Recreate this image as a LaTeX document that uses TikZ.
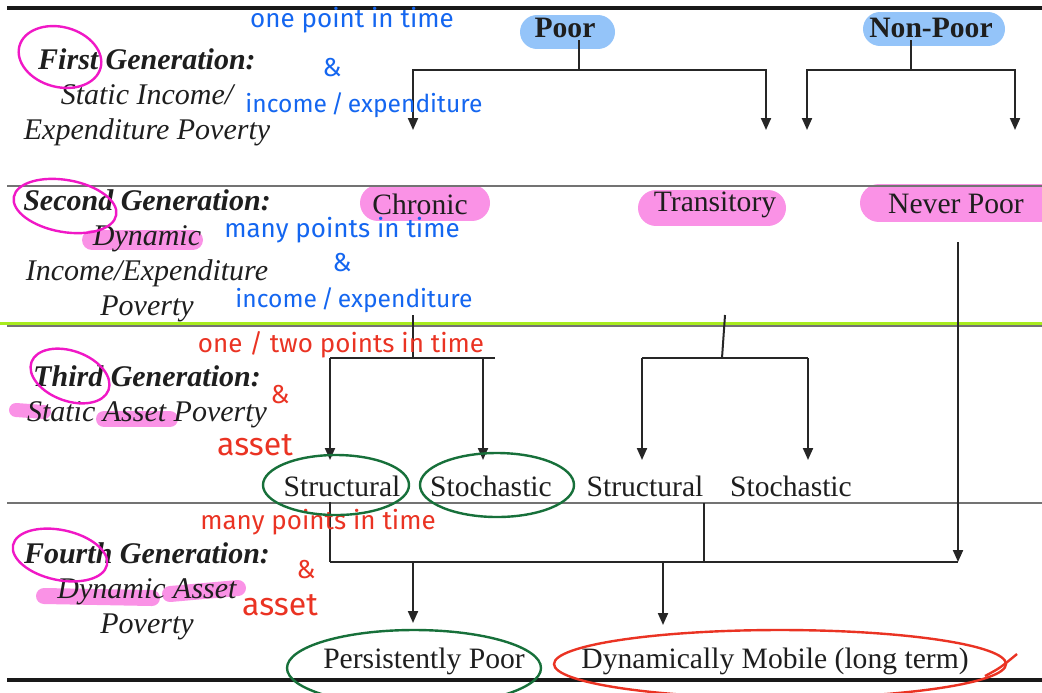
\documentclass[tikz,border=0pt]{standalone}
\usepackage{fontspec}
\setmainfont{Liberation Serif}
\newfontfamily\penfont{Fira Sans}
\usepackage{xcolor}
\usetikzlibrary{positioning, arrows.meta}

\definecolor{inkgray}{HTML}{1E1E1E}
\definecolor{markblue}{HTML}{94C4F9}
\definecolor{markpink}{HTML}{FA92E6}
\definecolor{marklime}{HTML}{A8EB1E}
\definecolor{inkblue}{HTML}{1466F0}
\definecolor{inkred}{HTML}{EA3323}
\definecolor{inkmag}{HTML}{F018C6}
\definecolor{inkgreen}{HTML}{17703A}

\tikzset{
  lbl/.style={text=inkgray, inner sep=1pt, font=\fontsize{14.8}{17.5}\selectfont},
  headlbl/.style={lbl, font=\fontsize{14.8}{17.5}\selectfont\bfseries},
  genlbl/.style={lbl, align=center, font=\fontsize{15}{17.5}\selectfont\itshape},
  conn/.style={draw=black!85, line width=1pt},
  arr/.style={conn, -{Triangle[width=5pt,length=6pt]}},
  sepline/.style={draw=black!55, line width=1pt},
  boldline/.style={draw=black!90, line width=1.6pt},
  bluemark/.style={draw=markblue, line width=17pt, line cap=round},
  pinkmark/.style={draw=markpink, line cap=round},
  penblue/.style={text=inkblue, inner sep=0pt, font=\penfont\fontsize{13}{14}\selectfont},
  penred/.style={text=inkred, inner sep=0pt, font=\penfont\fontsize{13}{14}\selectfont},
  penbig/.style={penred, font=\penfont\fontsize{16}{18}\selectfont},
  penloop/.style={line width=1.2pt}
}

\begin{document}
\begin{tikzpicture}[x=0.5pt, y=-0.5pt]
  \useasboundingbox (0,0) rectangle (1042,692);

  % highlighter marks
  \draw[bluemark] (537,32) -- (598,32);
  \draw[bluemark] (880,29) -- (988,29);
  \draw[pinkmark, line width=18pt] (378,203) -- (472,203);
  \draw[pinkmark, line width=18pt] (656,208) -- (768,208);
  \draw[pinkmark, line width=19pt] (879,203) -- (1042,203);
  \draw[pinkmark, line width=10pt] (92,240) -- (193,240);
  \draw[pinkmark, line width=7pt] (16,410) -- (44,412);
  \draw[pinkmark, line width=8pt] (104,419) -- (170,419);
  \draw[pinkmark, line width=8pt] (44,596) -- (152,598);
  \draw[pinkmark, line width=8pt] (170,594) -- (238,588);

  % rules
  \draw[boldline] (7,8) -- (1042,8);
  \draw[sepline] (7,186) -- (1042,186);
  \draw[sepline] (7,326) -- (1042,326);
  \draw[draw=marklime, line width=1.5pt] (0,323) -- (1042,323);
  \draw[sepline] (7,503) -- (1042,503);
  \draw[boldline] (7,680) -- (1042,680);

  % generation labels
  \node[genlbl] (gen1) at (147,97) {{\bfseries First Generation:}\\Static Income/\\Expenditure Poverty};
  \node[genlbl] (gen2) at (147,256) {{\bfseries Second Generation:}\\Dynamic\\Income/Expenditure\\Poverty};
  \node[genlbl] (gen3) at (147,397) {{\bfseries Third Generation:}\\Static Asset Poverty};
  \node[genlbl] (gen4) at (147,591) {{\bfseries Fourth Generation:}\\Dynamic Asset\\Poverty};

  % categories
  \node[headlbl] (poor) at (565,28) {Poor};
  \node[headlbl] (nonpoor) at (931,28) {Non-Poor};
  \node[lbl] (chronic) at (420,204) {Chronic};
  \node[lbl] (transitory) at (715,205) {Transitory};
  \node[lbl] (neverpoor) at (956,204) {Never Poor};
  \node[lbl] (struct1) at (342,486) {Structural};
  \node[lbl] (stoch1) at (491,486) {Stochastic};
  \node[lbl] (struct2) at (645,486) {Structural};
  \node[lbl] (stoch2) at (791,486) {Stochastic};
  \node[lbl] (persist) at (424,661) {Persistently Poor};
  \node[lbl] (mobile) at (775,661) {Dynamically Mobile (long term)};

  % first generation branches
  \coordinate (pj) at (579,70);
  \coordinate (npj) at (911,70);
  \coordinate (pa) at (413,130);
  \coordinate (pb) at (766,130);
  \coordinate (na) at (807,130);
  \coordinate (nb) at (1015,130);
  \draw[conn] (poor.south -| pj) -- (pj);
  \draw[arr] (pj) -| (pa);
  \draw[arr] (pj) -| (pb);
  \draw[conn] (nonpoor.south -| npj) -- (npj);
  \draw[arr] (npj) -| (na);
  \draw[arr] (npj) -| (nb);

  % third generation branches
  \coordinate (c0) at (413,315);
  \coordinate (cj) at (413,358);
  \coordinate (cl) at (330,358);
  \coordinate (cr) at (483,358);
  \coordinate (ce) at (495,358);
  \coordinate (t0) at (725,315);
  \coordinate (tj) at (722,358);
  \coordinate (tl) at (642,358);
  \coordinate (tr) at (808,358);
  \draw[conn] (c0) -- (cj);
  \draw[conn] (cl) -- (ce);
  \draw[arr] (cl) -- ++(0,102);
  \draw[arr] (cr) -- ++(0,102);
  \draw[conn] (t0) -- (tj);
  \draw[conn] (tl) -- (tr);
  \draw[arr] (tl) -- ++(0,102);
  \draw[arr] (tr) -- ++(0,102);

  % fourth generation branches
  \coordinate (np0) at (958,242);
  \coordinate (fl) at (330,562);
  \coordinate (fr) at (958,562);
  \coordinate (fa) at (413,562);
  \coordinate (fb) at (663,562);
  \draw[arr] (np0) -- (fr);
  \draw[conn] (fl |- struct1.south) ++(0,3) -- (fl);
  \draw[conn] (704,503) -- (704,562);
  \draw[conn] (fl) -- (fr);
  \draw[arr] (fa) -- ++(0,61);
  \draw[arr] (fb) -- ++(0,63);

  % handwritten notes
  \node[penblue] (pb1) at (352,20) {one point in time};
  \node[penblue] (pb2) at (332,68) {\&};
  \node[penblue, font=\penfont\fontsize{12.3}{14}\selectfont] (pb3) at (364,105) {income\,/\,expenditure};
  \node[penblue] (pb4) at (342,230) {many points in time};
  \node[penblue] (pb5) at (342,263) {\&};
  \node[penblue, font=\penfont\fontsize{12.3}{14}\selectfont] (pb6) at (354,300) {income\,/\,expenditure};
  \node[penred] (pr1) at (341,345) {one / two points in time};
  \node[penred] (pr2) at (280,395) {\&};
  \node[penbig] (pr3) at (255,445) {asset};
  \node[penred] (pr4) at (318,522) {many points in time};
  \node[penred] (pr5) at (306,570) {\&};
  \node[penbig] (pr6) at (280,605) {asset};

  % pen loops
  \draw[penloop, inkmag, rotate around={-15:(60,57)}] (60,57) ellipse [x radius=42, y radius=30];
  \draw[penloop, inkmag, rotate around={-10:(65,206)}] (65,206) ellipse [x radius=52, y radius=26];
  \draw[penloop, inkmag, rotate around={-20:(70,376)}] (70,376) ellipse [x radius=41, y radius=25];
  \draw[penloop, inkmag, rotate around={-12:(60,555)}] (60,555) ellipse [x radius=48, y radius=25];
  \draw[penloop, inkgreen] (336,485) ellipse [x radius=73, y radius=30];
  \draw[penloop, inkgreen] (497,485) ellipse [x radius=77, y radius=32];
  \draw[penloop, inkgreen] (414,668) ellipse [x radius=127, y radius=38];
  \draw[penloop, inkred] (780,664) ellipse [x radius=226, y radius=34];
  \draw[penloop, inkred] (985,676) .. controls (1000,668) .. (1017,654);
\end{tikzpicture}
\end{document}
